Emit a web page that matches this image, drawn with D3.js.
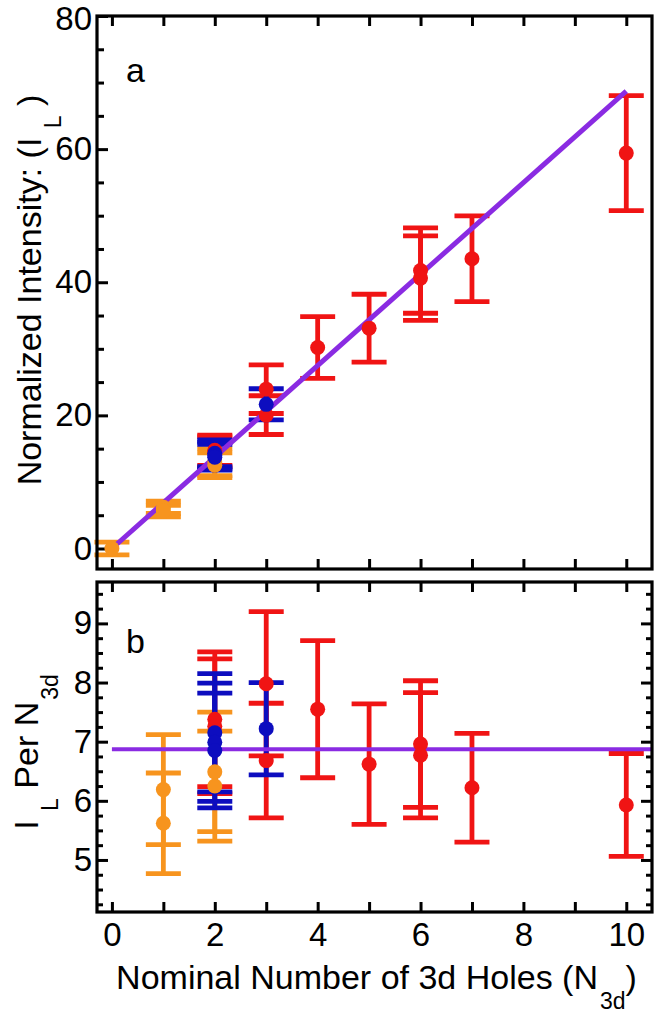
<!DOCTYPE html>
<html><head><meta charset="utf-8">
<script src="https://cdn.jsdelivr.net/npm/d3@7/dist/d3.min.js"></script>
<style>
html,body{margin:0;padding:0;background:#fff;}
svg text{font-family:"Liberation Sans",Arial,Helvetica,sans-serif;fill:#000;}
</style></head>
<body>
<svg id="c" width="655" height="1020"></svg>
<script>
// ---------- data ----------
const xTicks = [0,1,2,3,4,5,6,7,8,9,10];
const xTickLabels = [0,2,4,6,8,10];
const yaTickLabels = [0,20,40,60,80];
const ybTickLabels = [5,6,7,8,9];

// Panel a: normalized intensity I_L vs N3d
const orangeN   = [0, 1, 1, 2, 2];
const orangeIL  = [0, 6.19, 5.62, 12.98, 12.5];
const orangeILe = [0.95, 0.93, 0.85, 2.02, 1.86];
const blueN     = [2, 2, 2, 3];
const blueIL    = [14.3, 13.98, 13.7, 21.66];
const blueILe   = [2.0, 2.0, 1.94, 2.34];
const redN      = [2, 2, 3, 3, 4, 5, 6, 6, 7, 10];
const redIL     = [14.76, 14.52, 23.94, 20.04, 30.2, 33.1, 41.76, 40.62, 43.54, 59.4];
const redILe    = [2.28, 2.28, 3.66, 2.91, 4.64, 5.1, 6.42, 6.36, 6.44, 8.65];

// Panel b: I_L per N3d
const orangeBN  = [1, 1, 2, 2];
const orangeR   = [6.19, 5.62, 6.49, 6.25];
const orangeRe  = [0.93, 0.85, 1.01, 0.93];
const blueBN    = [2, 2, 2, 3];
const blueR     = [7.15, 6.99, 6.85, 7.22];
const blueRe    = [1.0, 1.0, 0.97, 0.78];
const redBN     = [2, 2, 3, 3, 4, 5, 6, 6, 7, 10];
const redR      = [7.38, 7.26, 7.98, 6.68, 7.55, 6.62, 6.96, 6.77, 6.22, 5.93];
const redRe     = [1.14, 1.14, 1.22, 0.97, 1.16, 1.02, 1.07, 1.06, 0.92, 0.87];

// fit lines
const fitLineA = [[0, 0], [10, 68.7]];
const avgLineB = [[0, 6.87], [10.5, 6.87]];

// ---------- layout ----------
const L = 97, R = 652;
const aT = 16, aB = 569;
const bT = 582, bB = 912;
const COL = {orange:"#f7941e", blue:"#0d0dbf", red:"#f01414", purple:"#8a2be2"};
const FS = 33;

const svg = d3.select("#c");
const x  = d3.scaleLinear().domain([-0.29, 10.5]).range([L, R]);
const ya = d3.scaleLinear().domain([-3.08, 80]).range([aB, aT]);
const yb = d3.scaleLinear().domain([4.12, 9.70]).range([bB, bT]);

function zip(xs, ys, es){ return xs.map((v,i)=>({x:v, y:ys[i], e:es[i]})); }

function styleAxis(g){
  g.select(".domain").remove();
  g.selectAll(".tick line").attr("stroke","#000").attr("stroke-width",3);
  g.selectAll(".tick text").attr("font-size",FS).attr("fill","#000")
    .style("font-family",'"Liberation Sans",Arial,sans-serif');
}

// ---------- panel a axes ----------
svg.append("g").attr("transform",`translate(0,${aB})`)
  .call(d3.axisBottom(x).tickValues(xTicks).tickSize(-10).tickFormat(""))
  .call(styleAxis);
svg.append("g").attr("transform",`translate(0,${aT})`)
  .call(d3.axisTop(x).tickValues(xTicks).tickSize(-10).tickFormat(""))
  .call(styleAxis);
svg.append("g").attr("transform",`translate(${L},0)`)
  .call(d3.axisLeft(ya).tickValues(d3.range(0,81,5).filter(v=>v%20!==0)).tickSize(-7).tickFormat(""))
  .call(styleAxis);
svg.append("g").attr("transform",`translate(${L},0)`)
  .call(d3.axisLeft(ya).tickValues(yaTickLabels).tickSize(-11).tickPadding(5).tickFormat(d3.format("d")))
  .call(styleAxis)
  .call(g=>g.selectAll(".tick text").attr("dy",d=>d===80?"0.4em":"0.32em"));

// ---------- panel b axes ----------
svg.append("g").attr("transform",`translate(0,${bB})`)
  .call(d3.axisBottom(x).tickValues(xTicks).tickSize(-10).tickFormat(""))
  .call(styleAxis);
svg.append("g").attr("transform",`translate(0,${bB})`)
  .call(d3.axisBottom(x).tickValues(xTickLabels).tickSize(0).tickPadding(11).tickFormat(d3.format("d")))
  .call(styleAxis);
svg.append("g").attr("transform",`translate(0,${bT})`)
  .call(d3.axisTop(x).tickValues(xTicks).tickSize(-10).tickFormat(""))
  .call(styleAxis);
const ybMinor = d3.range(4.25, 9.70, 0.25).filter(v=>Math.abs(v-Math.round(v))>0.01);
svg.append("g").attr("transform",`translate(${L},0)`)
  .call(d3.axisLeft(yb).tickValues(ybMinor).tickSize(-6).tickFormat(""))
  .call(styleAxis);
svg.append("g").attr("transform",`translate(${L},0)`)
  .call(d3.axisLeft(yb).tickValues(ybTickLabels).tickSize(-11).tickPadding(5).tickFormat(d3.format("d")))
  .call(styleAxis);
svg.append("g").attr("transform",`translate(${R},0)`)
  .call(d3.axisRight(yb).tickValues(ybMinor).tickSize(-6).tickFormat(""))
  .call(styleAxis);
svg.append("g").attr("transform",`translate(${R},0)`)
  .call(d3.axisRight(yb).tickValues(ybTickLabels).tickSize(-11).tickFormat(""))
  .call(styleAxis);

// ---------- marks ----------
function errorBars(g, data, y, color){
  const cw = 17.5;
  const s = g.append("g").attr("stroke",color).attr("fill","none");
  data.forEach(d=>{
    const cx = x(d.x), y1 = y(d.y + d.e), y2 = y(d.y - d.e);
    s.append("line").attr("x1",cx).attr("x2",cx).attr("y1",y1).attr("y2",y2).attr("stroke-width",4.8);
    s.append("line").attr("x1",cx-cw).attr("x2",cx+cw).attr("y1",y1).attr("y2",y1).attr("stroke-width",4.8);
    s.append("line").attr("x1",cx-cw).attr("x2",cx+cw).attr("y1",y2).attr("y2",y2).attr("stroke-width",4.8);
  });
}
function dots(g, data, y, color){
  g.append("g").selectAll("circle").data(data).join("circle")
    .attr("cx",d=>x(d.x)).attr("cy",d=>y(d.y)).attr("r",7.5).attr("fill",color);
}

// panel a
const ga = svg.append("g");
const aO = zip(orangeN, orangeIL, orangeILe), aBl = zip(blueN, blueIL, blueILe), aR = zip(redN, redIL, redILe);
errorBars(ga, aO, ya, COL.orange);
errorBars(ga, aR, ya, COL.red);
errorBars(ga, aBl, ya, COL.blue);
ga.append("path").attr("d", d3.line().x(d=>x(d[0])).y(d=>ya(d[1]))(fitLineA))
  .attr("stroke",COL.purple).attr("stroke-width",5).attr("fill","none");
dots(ga, aO, ya, COL.orange);
dots(ga, aR, ya, COL.red);
dots(ga, aBl, ya, COL.blue);

// panel b
const gb = svg.append("g");
const bO = zip(orangeBN, orangeR, orangeRe), bBl = zip(blueBN, blueR, blueRe), bR = zip(redBN, redR, redRe);
errorBars(gb, bO, yb, COL.orange);
errorBars(gb, bR, yb, COL.red);
errorBars(gb, bBl, yb, COL.blue);
gb.append("path").attr("d", d3.line().x(d=>x(d[0])).y(d=>yb(d[1]))(avgLineB))
  .attr("stroke",COL.purple).attr("stroke-width",4).attr("fill","none");
dots(gb, bO, yb, COL.orange);
dots(gb, bR, yb, COL.red);
dots(gb, bBl, yb, COL.blue);

// ---------- frames ----------
svg.append("rect").attr("x",L).attr("y",aT).attr("width",R-L).attr("height",aB-aT)
  .attr("fill","none").attr("stroke","#000").attr("stroke-width",3.2);
svg.append("rect").attr("x",L).attr("y",bT).attr("width",R-L).attr("height",bB-bT)
  .attr("fill","none").attr("stroke","#000").attr("stroke-width",3.2);

// ---------- labels ----------
svg.append("text").attr("x",126).attr("y",82).attr("font-size",34).text("a");
svg.append("text").attr("x",126).attr("y",653).attr("font-size",34).text("b");

// y label panel a
const tya = svg.append("text").attr("transform","translate(41,290) rotate(-90)")
  .attr("text-anchor","middle").attr("font-size",34);
tya.append("tspan").text("Normalized Intensity: (I ");
tya.append("tspan").attr("font-size",23).attr("dy",20).text("L");
tya.append("tspan").attr("dy",-20).text(" )");

// y label panel b
const tyb = svg.append("text").attr("transform","translate(38,752) rotate(-90)")
  .attr("text-anchor","middle").attr("font-size",34);
tyb.append("tspan").text("I ");
tyb.append("tspan").attr("font-size",23).attr("dy",20).text("L");
tyb.append("tspan").attr("dy",-20).text(" Per N");
tyb.append("tspan").attr("font-size",23).attr("dy",20).attr("dx",2).text("3d");

// x label
const tx = svg.append("text").attr("x",(L+R)/2+2).attr("y",989)
  .attr("text-anchor","middle").attr("font-size",34);
tx.append("tspan").text("Nominal Number of 3d Holes (N");
tx.append("tspan").attr("font-size",23).attr("dy",20).attr("dx",2).text("3d");
tx.append("tspan").attr("dy",-20).text(")");
</script>
</body></html>
